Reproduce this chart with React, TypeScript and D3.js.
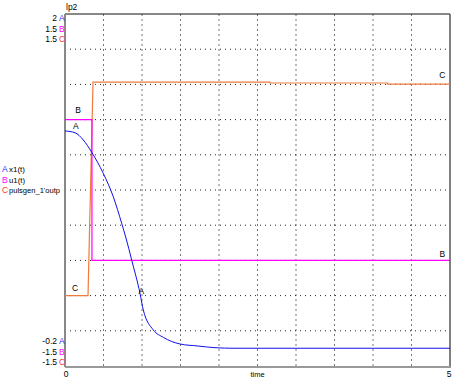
import React from "react";
import * as d3 from "d3";

const W = 455;
const H = 382;

// A: x1(t)
const timeA = [0, 0.13, 0.238, 0.347, 0.497, 0.627, 0.736, 0.792, 0.866, 0.974, 1.017, 1.147, 1.277, 1.494, 1.727, 1.948, 2.195, 5];
const valuesA = [1.269, 1.258, 1.2125, 1.136, 1.004, 0.858, 0.692, 0.6, 0.4625, 0.254, 0.15, 0.025, -0.021, -0.0625, -0.075, -0.0856, -0.089, -0.089];
// B: u1(t)
const timeB = [0, 0.35, 0.35, 5];
const valuesB = [0.6, 0.6, -0.6, -0.6];
// C: pulsgen_1'outp
const timeC = [0, 0.299, 0.364, 2.66, 2.66, 4.19, 4.19, 5];
const valuesC = [-0.9, -0.9, 0.92, 0.92, 0.912, 0.912, 0.903, 0.903];

const seriesNames = ["x1(t)", "u1(t)", "pulsgen_1'outp"];
const seriesKeys = ["A", "B", "C"];
const yTopLabels = ["2", "1.5", "1.5"];
const yBottomLabels = ["-0.2", "-1.5", "-1.5"];
const domainsY: [number, number][] = [[-0.2, 2], [-1.5, 1.5], [-1.5, 1.5]];
const xDomain: [number, number] = [0, 5];

const keyColors = ["#3030ff", "#ff00ff", "#ff3030"];
const lineColors = ["#1010ee", "#ff00ff", "#f07a3a"];

export default function App() {
  const left = 65, right = 450, top = 14, bottom = 366;
  const x = d3.scaleLinear().domain(xDomain).range([left, right]);
  const yA = d3.scaleLinear().domain(domainsY[0]).range([bottom, top]);
  const yB = d3.scaleLinear().domain(domainsY[1]).range([bottom, top]);
  const yC = d3.scaleLinear().domain(domainsY[2]).range([bottom, top]);

  const mk = (ts: number[], vs: number[], ys: d3.ScaleLinear<number, number>, smooth = false) => {
    const l = d3.line<number>().x((_, i) => x(ts[i])).y((v) => ys(v));
    if (smooth) l.curve(d3.curveMonotoneX);
    return l(vs) || "";
  };

  const gridX = d3.range(1, 10).map((i) => left + ((right - left) * i) / 10);
  const gridY = d3.range(1, 10).map((i) => top + ((bottom - top) * i) / 10);

  const font = "'Liberation Sans', Arial, sans-serif";
  const fs = 8.5;
  const legendWidths = [16, 16, 51];

  return (
    <svg width={W} height={H} style={{ position: "absolute", left: 0, top: 0, background: "#fff" }} fontFamily={font}>
      <rect x={0} y={0} width={W} height={H} fill="#fff" />
      {gridX.map((gx, i) => (
        <line key={"gx" + i} x1={gx} x2={gx} y1={top} y2={bottom} stroke="#777" strokeWidth={1} strokeDasharray="2,3" />
      ))}
      {gridY.map((gy, i) => (
        <line key={"gy" + i} x1={left} x2={right} y1={gy} y2={gy} stroke="#222" strokeWidth={1} strokeDasharray="1,4" />
      ))}
      {/* frame */}
      <line x1={left} x2={right} y1={top} y2={top} stroke="#111" strokeWidth={1} />
      <line x1={right} x2={right} y1={top} y2={bottom} stroke="#555" strokeWidth={1.5} />
      <line x1={left} x2={left} y1={top} y2={bottom + 1} stroke="#888" strokeWidth={2} />
      <line x1={left} x2={right + 1} y1={bottom + 1} y2={bottom + 1} stroke="#999" strokeWidth={2} />

      {/* series */}
      <path d={mk(timeC, valuesC, yC)} fill="none" stroke={lineColors[2]} strokeWidth={1.2} />
      <path d={mk(timeB, valuesB, yB)} fill="none" stroke={lineColors[1]} strokeWidth={1.2} />
      <path d={mk(timeA, valuesA, yA, true)} fill="none" stroke={lineColors[0]} strokeWidth={1} />

      {/* curve labels */}
      <text x={x(0.14)} y={yA(1.28)} fontSize={fs} fill="#000" textAnchor="middle">A</text>
      <text x={x(0.99)} y={yA(0.25)} fontSize={fs} fill="#000" textAnchor="middle">A</text>
      <text x={x(0.17)} y={yB(0.6) - 7} fontSize={fs} fill="#000" textAnchor="middle">B</text>
      <text x={x(4.9)} y={yB(-0.6) - 3} fontSize={fs} fill="#000" textAnchor="middle">B</text>
      <text x={x(0.13)} y={yC(-0.9) - 5} fontSize={fs} fill="#000" textAnchor="middle">C</text>
      <text x={x(4.9)} y={yC(0.92) - 4} fontSize={fs} fill="#000" textAnchor="middle">C</text>

      {/* y labels */}
      <text x={66} y={10} fontSize={fs} fill="#000">lp2</text>
      {yTopLabels.map((t, i) => (
        <g key={"yt" + i}>
          <text x={57} y={21 + i * 10.5} fontSize={fs} textAnchor="end" fill="#000">{t}</text>
          <text x={59} y={21 + i * 10.5} fontSize={fs} fill={keyColors[i]}>{seriesKeys[i]}</text>
        </g>
      ))}
      {yBottomLabels.map((t, i) => (
        <g key={"yb" + i}>
          <text x={57} y={344 + i * 10.5} fontSize={fs} textAnchor="end" fill="#000">{t}</text>
          <text x={59} y={344 + i * 10.5} fontSize={fs} fill={keyColors[i]}>{seriesKeys[i]}</text>
        </g>
      ))}

      {/* legend */}
      {seriesNames.map((n, i) => (
        <g key={"lg" + i}>
          <text x={2} y={172 + i * 10.5} fontSize={fs} fill={keyColors[i]}>{seriesKeys[i]}</text>
          <text x={9} y={172 + i * 10.5} fontSize={8} fill="#000" textLength={legendWidths[i]} lengthAdjust="spacingAndGlyphs">{n}</text>
        </g>
      ))}

      {/* x labels */}
      <text x={left + 1} y={377} fontSize={fs} fill="#000" textAnchor="middle">{xDomain[0]}</text>
      <text x={right - 1} y={377} fontSize={fs} fill="#000" textAnchor="middle">{xDomain[1]}</text>
      <text x={(left + right) / 2} y={377} fontSize={fs - 1} fill="#000" textAnchor="middle">time</text>
    </svg>
  );
}
